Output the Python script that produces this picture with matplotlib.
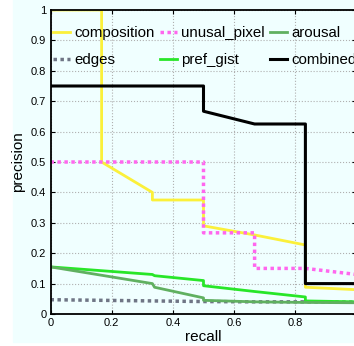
import matplotlib
matplotlib.use("Agg")
import matplotlib.pyplot as plt
from matplotlib.patches import Rectangle

plt.rcParams['font.family'] = ['Liberation Sans', 'DejaVu Sans']

# precision / recall curves
composition_r = [0, 0.167, 0.167, 0.333, 0.333, 0.5, 0.5, 0.667, 0.833, 0.833, 1.0]
composition_p = [1.0, 1.0, 0.5, 0.4, 0.375, 0.375, 0.29, 0.26, 0.227, 0.088, 0.08]

unusal_r = [0, 0.5, 0.5, 0.667, 0.667, 0.833, 1.0]
unusal_p = [0.5, 0.5, 0.267, 0.267, 0.15, 0.15, 0.13]

arousal_r = [0, 0.333, 0.34, 0.5, 0.5, 0.667, 0.833, 1.0]
arousal_p = [0.155, 0.1, 0.088, 0.053, 0.045, 0.04, 0.038, 0.037]

edges_r = [0, 0.167, 0.333, 0.5, 0.667, 0.833, 1.0]
edges_p = [0.047, 0.045, 0.043, 0.041, 0.04, 0.04, 0.039]

gist_r = [0, 0.333, 0.34, 0.5, 0.5, 0.667, 0.833, 0.833, 1.0]
gist_p = [0.155, 0.13, 0.126, 0.11, 0.093, 0.074, 0.056, 0.043, 0.04]

combined_r = [0, 0.5, 0.5, 0.667, 0.833, 0.833, 1.0]
combined_p = [0.75, 0.75, 0.667, 0.625, 0.625, 0.1, 0.1]

W, H = 354, 346
fig = plt.figure(figsize=(W / 100, H / 100), dpi=100, facecolor='white')
fig.patches.append(Rectangle((13 / W, 4 / H), 1, 1, transform=fig.transFigure,
                             color='#f0ffff', zorder=-1))

ax = fig.add_axes([50.5 / W, (H - 314) / H, 306 / W, 304 / H])
ax.set_facecolor('#f0ffff')

l1, = ax.plot(composition_r, composition_p, color='#fbf03a', lw=2.0, label='composition')
l2, = ax.plot(edges_r, edges_p, color='#6f7585', lw=2.5, dashes=(1, 1), label='edges')
l3, = ax.plot(unusal_r, unusal_p, color='#ff66ee', lw=2.5, dashes=(1, 1), label='unusal_pixel')
l4, = ax.plot(gist_r, gist_p, color='#28e628', lw=2.0, label='pref_gist')
l5, = ax.plot(arousal_r, arousal_p, color='#60b060', lw=2.0, label='arousal')
l6, = ax.plot(combined_r, combined_p, color='black', lw=2.2, label='combined')

ax.set_xlim(0, 1)
ax.set_ylim(0, 1)
ax.set_xticks([0, 0.2, 0.4, 0.6, 0.8])
ax.set_xticklabels(['0', '0.2', '0.4', '0.6', '0.8'])
ax.set_yticks([0, 0.1, 0.2, 0.3, 0.4, 0.5, 0.6, 0.7, 0.8, 0.9, 1])
ax.set_yticklabels(['0', '0.1', '0.2', '0.3', '0.4', '0.5', '0.6', '0.7', '0.8', '0.9', '1'])
ax.tick_params(direction='in', length=3, labelsize=8, top=True, right=True, pad=3)
ax.grid(True, color='#b0b0b0', linestyle=':', linewidth=0.8)
for s in ax.spines.values():
    s.set_linewidth(1.3)

ax.set_xlabel('recall', fontsize=11, labelpad=1)
ax.set_ylabel('precision', fontsize=11, labelpad=4)

fig.legend(handles=[l1, l2, l3, l4, l5, l6], ncol=3, frameon=False,
           loc='upper left', bbox_to_anchor=(53 / W, 1 - 26 / H),
           borderpad=0, borderaxespad=0, fontsize=10.8,
           handlelength=1.15, handletextpad=0.3, columnspacing=0.3,
           labelspacing=0.85)

fig.savefig('out.png', dpi=100, facecolor=fig.get_facecolor())
